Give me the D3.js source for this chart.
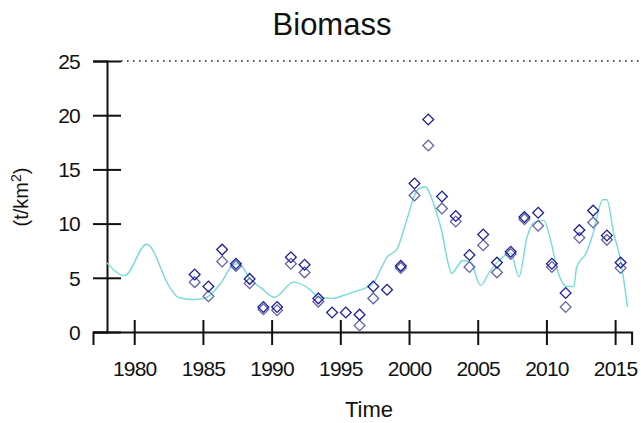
<!DOCTYPE html>
<html>
<head>
<meta charset="utf-8">
<script src="https://cdn.jsdelivr.net/npm/d3@7"></script>
<style>
  html, body { margin: 0; padding: 0; background: #fff; }
  svg { display: block; }
  text { font-family: Arial, "Liberation Sans", sans-serif; fill: #111; }
</style>
</head>
<body>
<svg id="chart" width="641" height="423"></svg>
<script>
// ---- data ----
const xTicks = [1980, 1985, 1990, 1995, 2000, 2005, 2010, 2015];
const yTicks = [0, 5, 10, 15, 20, 25];

// model fit (cyan line)
const lineYears = [1978.0, 1979.3, 1980.9, 1982.6, 1983.2, 1984.3, 1985.1, 1986.3, 1987.2, 1987.6,
  1988.5, 1989.3, 1990.2, 1991.6, 1992.8, 1993.4, 1994.4, 1995.5, 1996.5, 1997.4,
  1997.9, 1998.4, 1999.1, 1999.9, 2000.4, 2000.7, 2001.2, 2001.5, 2002.0, 2002.4,
  2002.8, 2003.1, 2003.5, 2003.9, 2004.5, 2005.2, 2005.8, 2006.4, 2007.4, 2008.0,
  2008.6, 2009.1, 2009.8, 2010.3, 2010.8, 2011.5, 2012.0, 2012.2, 2012.9, 2013.4,
  2014.1, 2014.4, 2014.9, 2015.4, 2015.9];
const lineValues = [6.4, 5.2, 8.1, 4.1, 3.2, 3.0, 3.1, 4.5, 6.2, 6.3,
  4.8, 4.0, 3.2, 4.6, 3.9, 3.2, 3.1, 3.5, 3.9, 4.5,
  5.7, 6.9, 7.6, 10.6, 12.6, 13.2, 13.4, 12.8, 11.0, 9.2,
  6.6, 5.4, 6.0, 6.6, 6.4, 4.3, 5.4, 6.4, 7.3, 5.1,
  8.8, 10.1, 10.3, 8.5, 5.7, 4.2, 4.2, 6.0, 7.3, 9.1,
  12.2, 12.2, 9.1, 6.6, 2.3];

// observations (two survey series)
const obsYears = [1984, 1985, 1986, 1987, 1988, 1989, 1990, 1991, 1992, 1993,
  1994, 1995, 1996, 1997, 1998, 1999, 2000, 2001, 2002, 2003,
  2004, 2005, 2006, 2007, 2008, 2009, 2010, 2011, 2012, 2013, 2014, 2015];
const obsA = [5.3, 4.2, 7.6, 6.3, 4.9, 2.3, 2.3, 6.9, 6.2, 3.1,
  1.8, 1.8, 1.6, 4.2, 3.9, 6.1, 13.7, 19.6, 12.5, 10.7,
  7.1, 9.0, 6.4, 7.4, 10.6, 11.0, 6.3, 3.6, 9.4, 11.2, 8.9, 6.4];
const obsB = [4.6, 3.3, 6.5, 6.1, 4.5, 2.1, 2.0, 6.3, 5.5, 2.8,
  null, null, 0.6, 3.1, null, 5.9, 12.6, 17.2, 11.4, 10.2,
  6.0, 8.0, 5.5, 7.2, 10.4, 9.8, 6.0, 2.3, 8.7, 10.1, 8.5, 5.9];
const obsOffset = 0.4;

// ---- chart ----
const svg = d3.select("#chart");
const x = d3.scaleLinear().domain([1977, 2016.2]).range([93, 631.6]);
const y = d3.scaleLinear().domain([0, 25]).range([332, 61]);
const axisX = 107;

// dotted reference line at 25
svg.append("line")
  .attr("x1", 121).attr("x2", 641)
  .attr("y1", y(25)).attr("y2", y(25))
  .attr("stroke", "#222").attr("stroke-width", 1.6)
  .attr("stroke-dasharray", "1.6,4.4");

// x axis
const gx = svg.append("g").attr("transform", `translate(0,${y(0)})`)
  .call(d3.axisBottom(x).tickValues(xTicks).tickSizeOuter(0).tickSize(13).tickPadding(0).tickFormat(d3.format("d")));
gx.select(".domain").attr("stroke", "#111").attr("stroke-width", 2);
gx.selectAll(".tick line").attr("y1", -12).attr("stroke", "#111").attr("stroke-width", 2);
gx.selectAll(".tick text").attr("y", 44).attr("dy", null)
  .style("font-size", "21px").style("letter-spacing", "-0.8px").attr("fill", "#111");

// y axis
const gy = svg.append("g").attr("transform", `translate(${axisX},0)`)
  .call(d3.axisLeft(y).tickValues(yTicks).tickSizeOuter(0).tickSize(14).tickPadding(0));
gy.select(".domain").attr("stroke", "#111").attr("stroke-width", 2);
gy.selectAll(".tick line").attr("x1", 14).attr("stroke", "#111").attr("stroke-width", 2);
gy.selectAll(".tick text").attr("x", -27).attr("dy", "0.35em")
  .style("font-size", "21px").style("letter-spacing", "-0.8px").attr("fill", "#111");

// model line
const line = d3.line().x((d, i) => x(lineYears[i])).y(d => y(d)).curve(d3.curveMonotoneX);
svg.append("path").datum(lineValues)
  .attr("d", line)
  .attr("fill", "none")
  .attr("stroke", "#74dcd8")
  .attr("stroke-width", 1.4);

// diamonds
const diamond = d3.symbol().type(d3.symbolSquare).size(58);
function addPoints(vals, color) {
  const data = obsYears.map((yr, i) => ({yr, v: vals[i]})).filter(d => d.v != null);
  svg.append("g").selectAll("path").data(data).join("path")
    .attr("d", diamond)
    .attr("transform", d => `translate(${x(d.yr + obsOffset)},${y(d.v)}) rotate(45)`)
    .attr("fill", "none")
    .attr("stroke", color)
    .attr("stroke-width", 1.3);
}
addPoints(obsB, "#6464a8");
addPoints(obsA, "#1e1e96");

// title and labels
svg.append("text").attr("x", 332).attr("y", 35)
  .attr("text-anchor", "middle").style("font-size", "31px").text("Biomass");
svg.append("text").attr("x", 369).attr("y", 417)
  .attr("text-anchor", "middle").style("font-size", "22px").text("Time");
const yl = svg.append("text")
  .attr("transform", "translate(28,197) rotate(-90)")
  .attr("text-anchor", "middle").style("font-size", "20px");
yl.append("tspan").text("(t/km");
yl.append("tspan").attr("dy", -7).style("font-size", "14px").text("2");
yl.append("tspan").attr("dy", 7).text(")");
</script>
</body>
</html>
